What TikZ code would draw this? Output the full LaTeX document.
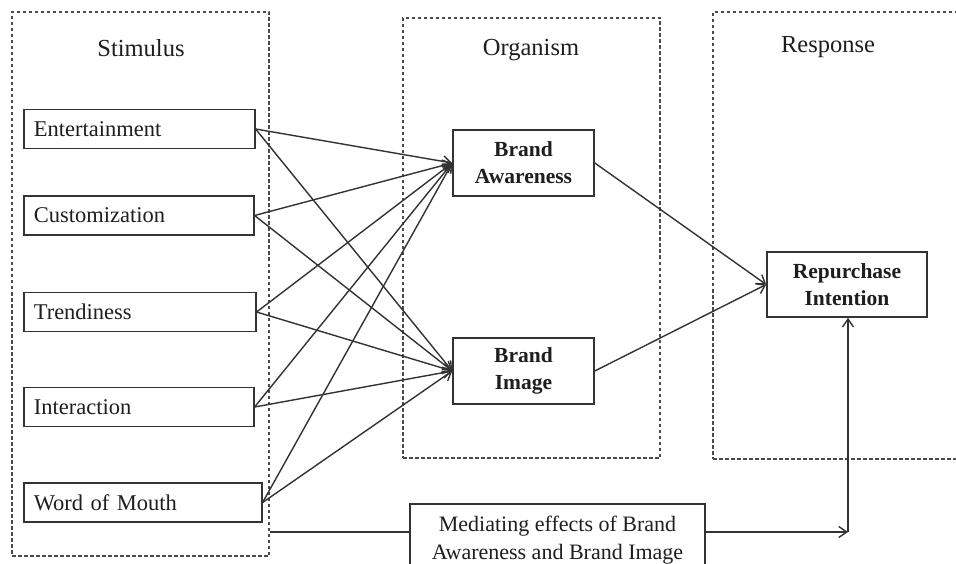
\documentclass[tikz,border=0pt]{standalone}
\usepackage{fontspec}
\setmainfont{Liberation Serif}
\usetikzlibrary{arrows.meta}
\definecolor{ink}{HTML}{1E1E1E}
\definecolor{edge}{HTML}{333333}
\definecolor{dashgray}{HTML}{4A4A4A}
\begin{document}
\begin{tikzpicture}[x=1pt,y=-1pt,
  frame/.style={draw=dashgray, line width=1.3pt, dash pattern=on 3.5pt off 2.5pt, inner sep=0pt},
  title/.style={text=ink, font=\fontsize{24.5}{29}\selectfont},
  itembox/.style={draw=edge, line width=1.6pt, anchor=west, minimum height=39pt,
    inner xsep=10pt, text width=#1, align=left, text=ink,
    font=\fontsize{22.5}{27}\selectfont},
  midbox/.style={draw=edge, line width=1.6pt, minimum width=141pt, minimum height=66pt,
    align=center, text=ink, font=\bfseries\fontsize{21.5}{27}\selectfont},
  notebox/.style={draw=edge, line width=1.6pt, fill=white, minimum width=295pt,
    minimum height=72pt, anchor=north, align=center, text=ink,
    font=\fontsize{22}{28}\selectfont},
  plain/.style={draw=edge, line width=1.4pt},
  link/.style={draw=edge, line width=1.4pt, -{Straight Barb[length=8pt,width=11pt,line width=1.4pt]}},
]
\clip (0,0) rectangle (956,564);
\fill[white] (0,0) rectangle (956,564);

% S-O-R frames
\node[frame, minimum width=257pt, minimum height=544pt] (stim) at (140.5,284) {};
\node[frame, minimum width=257pt, minimum height=440pt] (org) at (531.5,238) {};
\node[frame, minimum width=262pt, minimum height=447pt] (resp) at (844,235.5) {};

\node[title] (stimtitle) at (141,48) {Stimulus};
\node[title] (orgtitle) at (531,50) {Organism};
\node[title] (resptitle) at (828,47) {Response};

% stimulus factors
\node[itembox=211pt] (ent) at (23,129) {Entertainment};
\node[itembox=210pt] (cus) at (23,215.5) {Customization};
\node[itembox=212pt] (tre) at (23,312) {Trendiness};
\node[itembox=210pt] (int) at (23,407) {Interaction};
\node[itembox=218pt] (wom) at (23,502.5) {Word of Mouth};

% organism and response
\node[midbox] (aware) at (523.5,163) {Brand\\Awareness};
\node[midbox] (image) at (523.5,371) {Brand\\Image};
\node[midbox, minimum width=160pt, minimum height=65pt] (rep) at (847,284.5) {Repurchase\\Intention};

% mediation note
\node[notebox] (med) at (557.5,503) {Mediating effects of Brand\\Awareness and Brand Image};

% stimulus -> organism
\foreach \s in {ent,cus,tre,int,wom} {
  \draw[link] (\s.east) -- (aware.west);
  \draw[link] (\s.east) -- (image.west);
}

% organism -> response
\draw[link] (aware.east) -- (rep.west);
\draw[link] (image.east) -- (rep.west);

% mediation path
\coordinate (corner) at (848,532);
\draw[plain] (stim.east |- corner) -- (med.west |- corner);
\draw[link] (med.east |- corner) -- (corner);
\draw[link] (corner) -- (rep.south -| corner);
\end{tikzpicture}
\end{document}
